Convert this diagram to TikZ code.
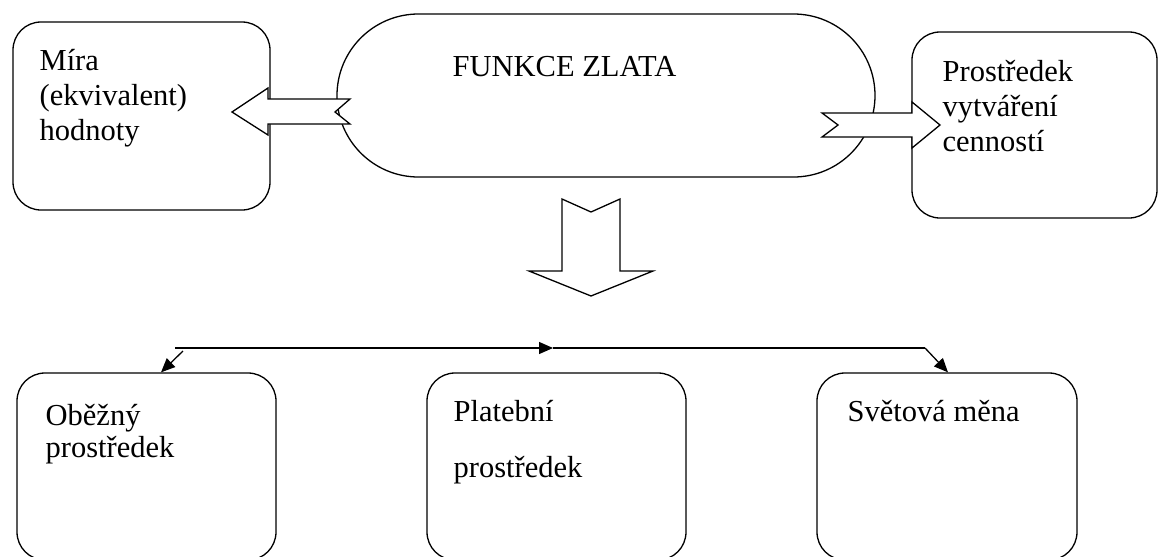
\documentclass[tikz,border=0pt]{standalone}
\usepackage{fontspec}
\setmainfont{Liberation Serif}
\usetikzlibrary{arrows.meta}
\begin{document}
\begin{tikzpicture}[x=1pt,y=-1pt, line width=1.3pt,
  box/.style={draw, line width=1.3pt, rounded corners=28pt, inner sep=0pt, fill=white},
  lbl/.style={inner sep=0pt, anchor=base west, align=left,
    font=\fontsize{30.5}{35}\selectfont},
  blockarrow/.style={draw, fill=white, line width=1.3pt, line join=miter},
  conn/.style={line width=1.3pt, -{Triangle[length=14pt,width=12pt]}}
]
\useasboundingbox (0,0) rectangle (1160,557);
\clip (0,0) rectangle (1160,557);

% boxes
\node[box, minimum width=257pt, minimum height=188pt] (mira) at (141.5,116) {};
\node[box, rounded corners=81.5pt, minimum width=538pt, minimum height=163pt] (funkce) at (606,95.5) {};
\node[box, minimum width=245pt, minimum height=186pt] (prostr) at (1034.5,125) {};
\node[box, minimum width=259pt, minimum height=187pt] (obezny) at (146.5,466.5) {};
\node[box, minimum width=259pt, minimum height=187pt] (platebni) at (556.5,466.5) {};
\node[box, minimum width=260pt, minimum height=187pt] (svetova) at (947,466.5) {};

% texts (anchor = baseline of the last line)
\node[lbl] (tmira) at (39,140) {Míra\\(ekvivalent)\\hodnoty};
\node[lbl] (tfunkce) at (452,76) {FUNKCE ZLATA};
\node[lbl] (tprostr) at (942,151) {Prostředek\\vytváření\\cenností};
\node[lbl] (tobezny) at (45,457) {Oběžný\\[-3pt]prostředek};
\node[lbl] (tplatebni) at (453,477) {Platební\\[21pt]prostředek};
\node[lbl] (tsvetova) at (847,421) {Světová měna};

% block arrows
\draw[blockarrow] (232,112) -- (268,88) -- (268,99) -- (350,99) -- (335,112)
  -- (350,124) -- (268,124) -- (268,135) -- cycle;
\draw[blockarrow] (940,125) -- (912,102) -- (912,113) -- (822,113) -- (838,125)
  -- (822,137) -- (912,137) -- (912,148) -- cycle;
\draw[blockarrow] (591,296) -- (529,271) -- (562,271) -- (562,199) -- (591,212)
  -- (620,199) -- (620,271) -- (653,271) -- cycle;

% distribution line
\coordinate (hl) at (175,348);
\coordinate (hm) at (553,348);
\coordinate (hr) at (925,348);
\coordinate (dl) at (183,351);
\draw[conn] (hl) -- (hm);
\draw (hm) -- (hr);
\draw[conn] (dl) -- (obezny.north -| 161,0);
\draw[conn] (hr) -- (svetova.north -| 948,0);
\end{tikzpicture}
\end{document}
